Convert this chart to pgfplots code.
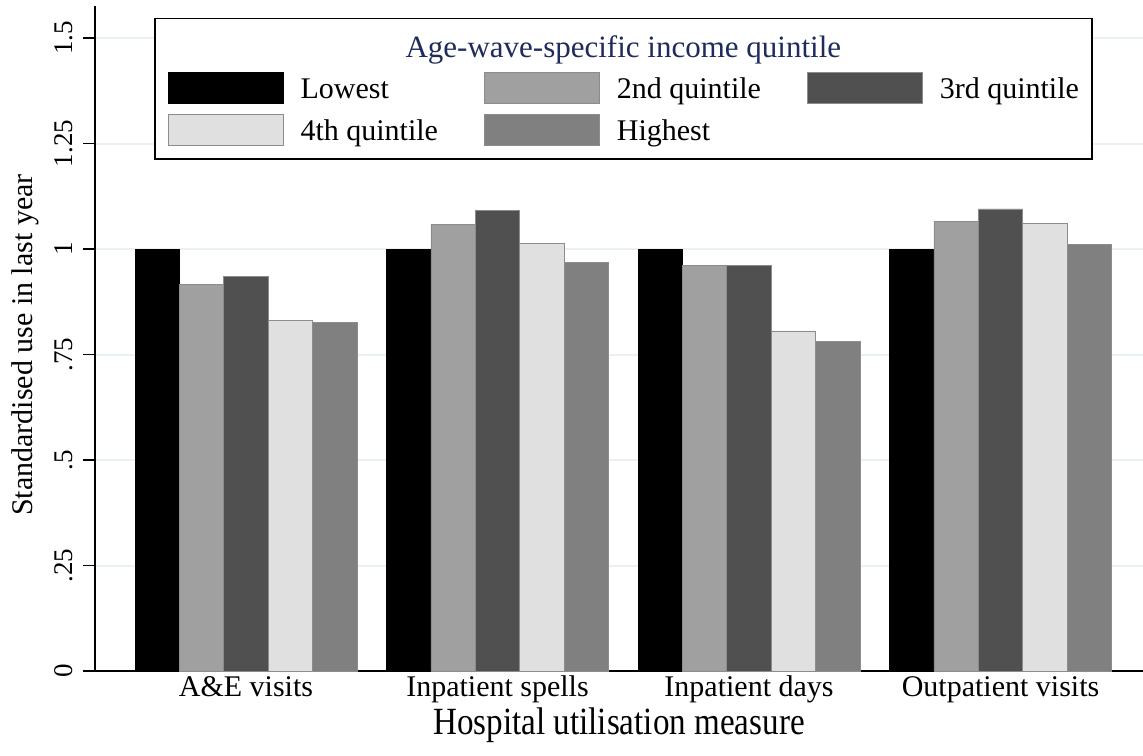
\documentclass[border=0pt]{standalone}
\usepackage{fontspec}
\setmainfont{Liberation Serif}
\newfontfamily\xtitlefont{Liberation Serif}[FakeStretch=0.86]
\usepackage{pgfplots}
\pgfplotsset{compat=1.18}
\definecolor{qa}{HTML}{000000}
\definecolor{qb}{HTML}{A0A0A0}
\definecolor{qc}{HTML}{505050}
\definecolor{qd}{HTML}{E0E0E0}
\definecolor{qe}{HTML}{808080}
\definecolor{gridc}{HTML}{EAF1F3}
\definecolor{navytitle}{HTML}{1E2B5C}
\pgfplotsset{swatch/.style={legend image code/.code={\path[##1] (0pt,-12.25pt) rectangle (115pt,18.75pt);}}}
\begin{document}
\begin{tikzpicture}
\path[use as bounding box] (0,0) rectangle (1143pt,755pt);
\begin{axis}[
  at={(95pt,84pt)}, anchor=south west,
  scale only axis, width=1048pt, height=665pt,
  xmin=-0.6004, xmax=3.5666, ymin=0, ymax=1.576,
  ybar=0pt, bar width=44.4pt,
  axis x line*=bottom, axis y line*=left,
  axis line style={line width=1.6pt, -},
  xtick={0,1,2,3},
  xticklabels={A\&E visits, Inpatient spells, Inpatient days, Outpatient visits},
  xtick style={draw=none},
  ytick={0,0.25,0.5,0.75,1,1.25,1.5},
  yticklabels={0,.25,.5,.75,1,1.25,1.5},
  tick align=outside, major tick length=12pt,
  ytick style={line width=1.6pt, black},
  ymajorgrids, grid style={gridc, line width=2pt},
  xticklabel style={font=\fontsize{30}{36}\selectfont, anchor=base, inner sep=0pt, yshift=-14pt},
  yticklabel style={font=\fontsize{27}{32}\selectfont, xshift=-10pt, rotate=90, anchor=south, inner sep=0pt},
  ylabel={Standardised use in last year},
  ylabel style={at={(axis description cs:-0.0668,0.49)}, anchor=center, rotate=0, inner sep=0pt, font=\fontsize{30}{36}\selectfont},
  xlabel={Hospital utilisation measure},
  xlabel style={at={(axis description cs:0.5,-0.0962)}, anchor=base, inner sep=0pt, font=\xtitlefont\fontsize{38.5}{44}\selectfont},
  legend columns=3,
  legend cell align=left,
  legend style={at={(axis description cs:0.0563,0.982)}, anchor=north west,
    draw=black, line width=1.5pt, fill=white,
    inner xsep=13pt, inner ysep=12pt, row sep=9.5pt, column sep=17pt,
    font=\fontsize{30}{36}\selectfont, nodes={inner sep=0pt, text height=21pt, text depth=6.5pt},
    /tikz/every even column/.append style={column sep=46pt},
    label={[anchor=north, yshift=-18pt, inner sep=0pt, text=navytitle, font=\fontsize{31}{37}\selectfont]north:Age-wave-specific income quintile}},
]
\addlegendimage{empty legend}\addlegendentry[text height=25pt, text depth=6.5pt]{}
\addlegendimage{empty legend}\addlegendentry[text height=25pt, text depth=6.5pt]{}
\addlegendimage{empty legend}\addlegendentry[text height=25pt, text depth=6.5pt]{}
\addplot[fill=qa, draw=black, line width=0.8pt, swatch] coordinates {(0,1) (1,1) (2,1) (3,1)};
\addlegendentry{Lowest}
\addplot[fill=qb, draw=black!45, line width=0.8pt, swatch] coordinates {(0,0.916) (1,1.059) (2,0.961) (3,1.065)};
\addlegendentry{2nd quintile}
\addplot[fill=qc, draw=black!45, line width=0.8pt, swatch] coordinates {(0,0.935) (1,1.092) (2,0.962) (3,1.095)};
\addlegendentry{3rd quintile}
\addplot[fill=qd, draw=black!45, line width=0.8pt, swatch] coordinates {(0,0.831) (1,1.013) (2,0.806) (3,1.061)};
\addlegendentry{4th quintile}
\addplot[fill=qe, draw=black!45, line width=0.8pt, swatch] coordinates {(0,0.826) (1,0.968) (2,0.782) (3,1.011)};
\addlegendentry{Highest}
\end{axis}
\end{tikzpicture}
\end{document}
